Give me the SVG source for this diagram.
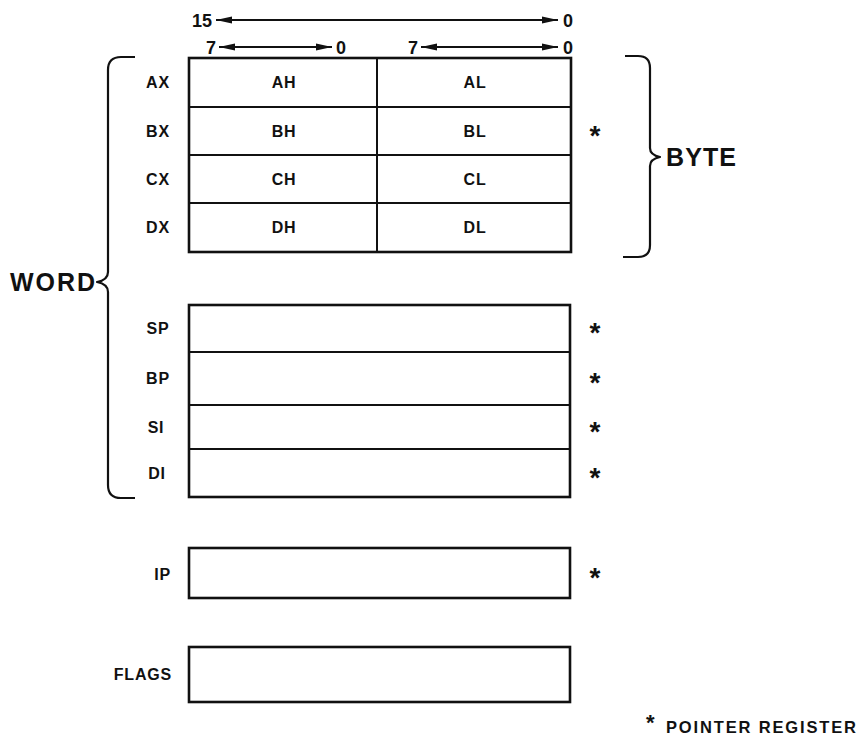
<svg xmlns="http://www.w3.org/2000/svg" width="866" height="736" viewBox="0 0 866 736">
<style>
text{font-family:"Liberation Sans",Arial,Helvetica,sans-serif;font-weight:bold;fill:#111}
.lbl{font-size:16px;text-anchor:middle;letter-spacing:0.8px}
.num{font-size:18px}
.big{font-size:25px}
.ast{font-size:28px;text-anchor:middle}
.box{fill:#fff;stroke:#111;stroke-width:2.6}
.row{stroke:#111;stroke-width:2}
.brace{fill:none;stroke:#111;stroke-width:2.2;stroke-linejoin:round}
.arr{stroke:#111;stroke-width:1.8;marker-start:url(#ah);marker-end:url(#ah)}
</style>
<defs>
<marker id="ah" markerUnits="userSpaceOnUse" markerWidth="16" markerHeight="8" refX="16" refY="4" orient="auto-start-reverse">
<path d="M0,0.6 L16,4 L0,7.4 z" fill="#111"/>
</marker>
</defs>
<rect width="866" height="736" fill="#fff"/>

<g id="connectors">
<line class="arr" x1="216" y1="20" x2="558" y2="20"/>
<line class="arr" x1="219" y1="47" x2="332" y2="47"/>
<line class="arr" x1="421" y1="47" x2="558" y2="47"/>
</g>

<g id="bit-scale">
<text class="num" x="212" y="27" text-anchor="end">15</text>
<text class="num" x="563" y="27">0</text>
<text class="num" x="216" y="54" text-anchor="end">7</text>
<text class="num" x="336" y="54">0</text>
<text class="num" x="418" y="54" text-anchor="end">7</text>
<text class="num" x="563" y="54">0</text>
</g>

<g id="general-registers">
<rect class="box" x="189" y="58" width="382" height="194"/>
<line class="row" x1="189" y1="107" x2="571" y2="107"/>
<line class="row" x1="189" y1="155" x2="571" y2="155"/>
<line class="row" x1="189" y1="203" x2="571" y2="203"/>
<line class="row" x1="377" y1="58" x2="377" y2="252"/>
<text class="lbl" x="158" y="88">AX</text>
<text class="lbl" x="158" y="137">BX</text>
<text class="lbl" x="158" y="185">CX</text>
<text class="lbl" x="158" y="233">DX</text>
<text class="lbl" x="284" y="88">AH</text>
<text class="lbl" x="284" y="137">BH</text>
<text class="lbl" x="284" y="185">CH</text>
<text class="lbl" x="284" y="233">DH</text>
<text class="lbl" x="475" y="88">AL</text>
<text class="lbl" x="475" y="137">BL</text>
<text class="lbl" x="475" y="185">CL</text>
<text class="lbl" x="475" y="233">DL</text>
</g>

<g id="pointer-index-registers">
<rect class="box" x="189" y="305" width="381" height="192"/>
<line class="row" x1="189" y1="352" x2="570" y2="352"/>
<line class="row" x1="189" y1="405" x2="570" y2="405"/>
<line class="row" x1="189" y1="449" x2="570" y2="449"/>
<text class="lbl" x="158" y="334">SP</text>
<text class="lbl" x="158" y="384">BP</text>
<text class="lbl" x="156" y="433">SI</text>
<text class="lbl" x="157" y="479">DI</text>
</g>

<g id="ip-register">
<rect class="box" x="189" y="548" width="381" height="50"/>
<text class="lbl" x="171" y="580" style="text-anchor:end">IP</text>
</g>

<g id="flags-register">
<rect class="box" x="189" y="647" width="381" height="55"/>
<text class="lbl" x="172" y="680" style="text-anchor:end">FLAGS</text>
</g>

<g id="asterisks">
<text class="ast" x="595" y="145">*</text>
<text class="ast" x="595" y="342">*</text>
<text class="ast" x="595" y="392">*</text>
<text class="ast" x="595" y="441">*</text>
<text class="ast" x="595" y="487">*</text>
<text class="ast" x="595" y="587">*</text>
</g>

<g id="word-brace">
<path class="brace" d="M135,57 L121,57 Q108,57 108,70 L108,272 Q108,280 97,282 Q108,284 108,292 L108,485 Q108,498 121,498 L135,498"/>
<text class="big" x="10" y="291" textLength="85">WORD</text>
</g>

<g id="byte-brace">
<path class="brace" d="M625,56 L638,56 Q650,56 650,68 L650,148 Q650,155 660,157 Q650,159 650,166 L650,245 Q650,257 638,257 L623,257"/>
<text class="big" x="666" y="166" textLength="70">BYTE</text>
</g>

<g id="legend">
<text style="font-size:22px" x="646" y="730">*</text>
<text style="font-size:16.5px" x="666" y="733" textLength="190">POINTER REGISTER</text>
</g>
</svg>
